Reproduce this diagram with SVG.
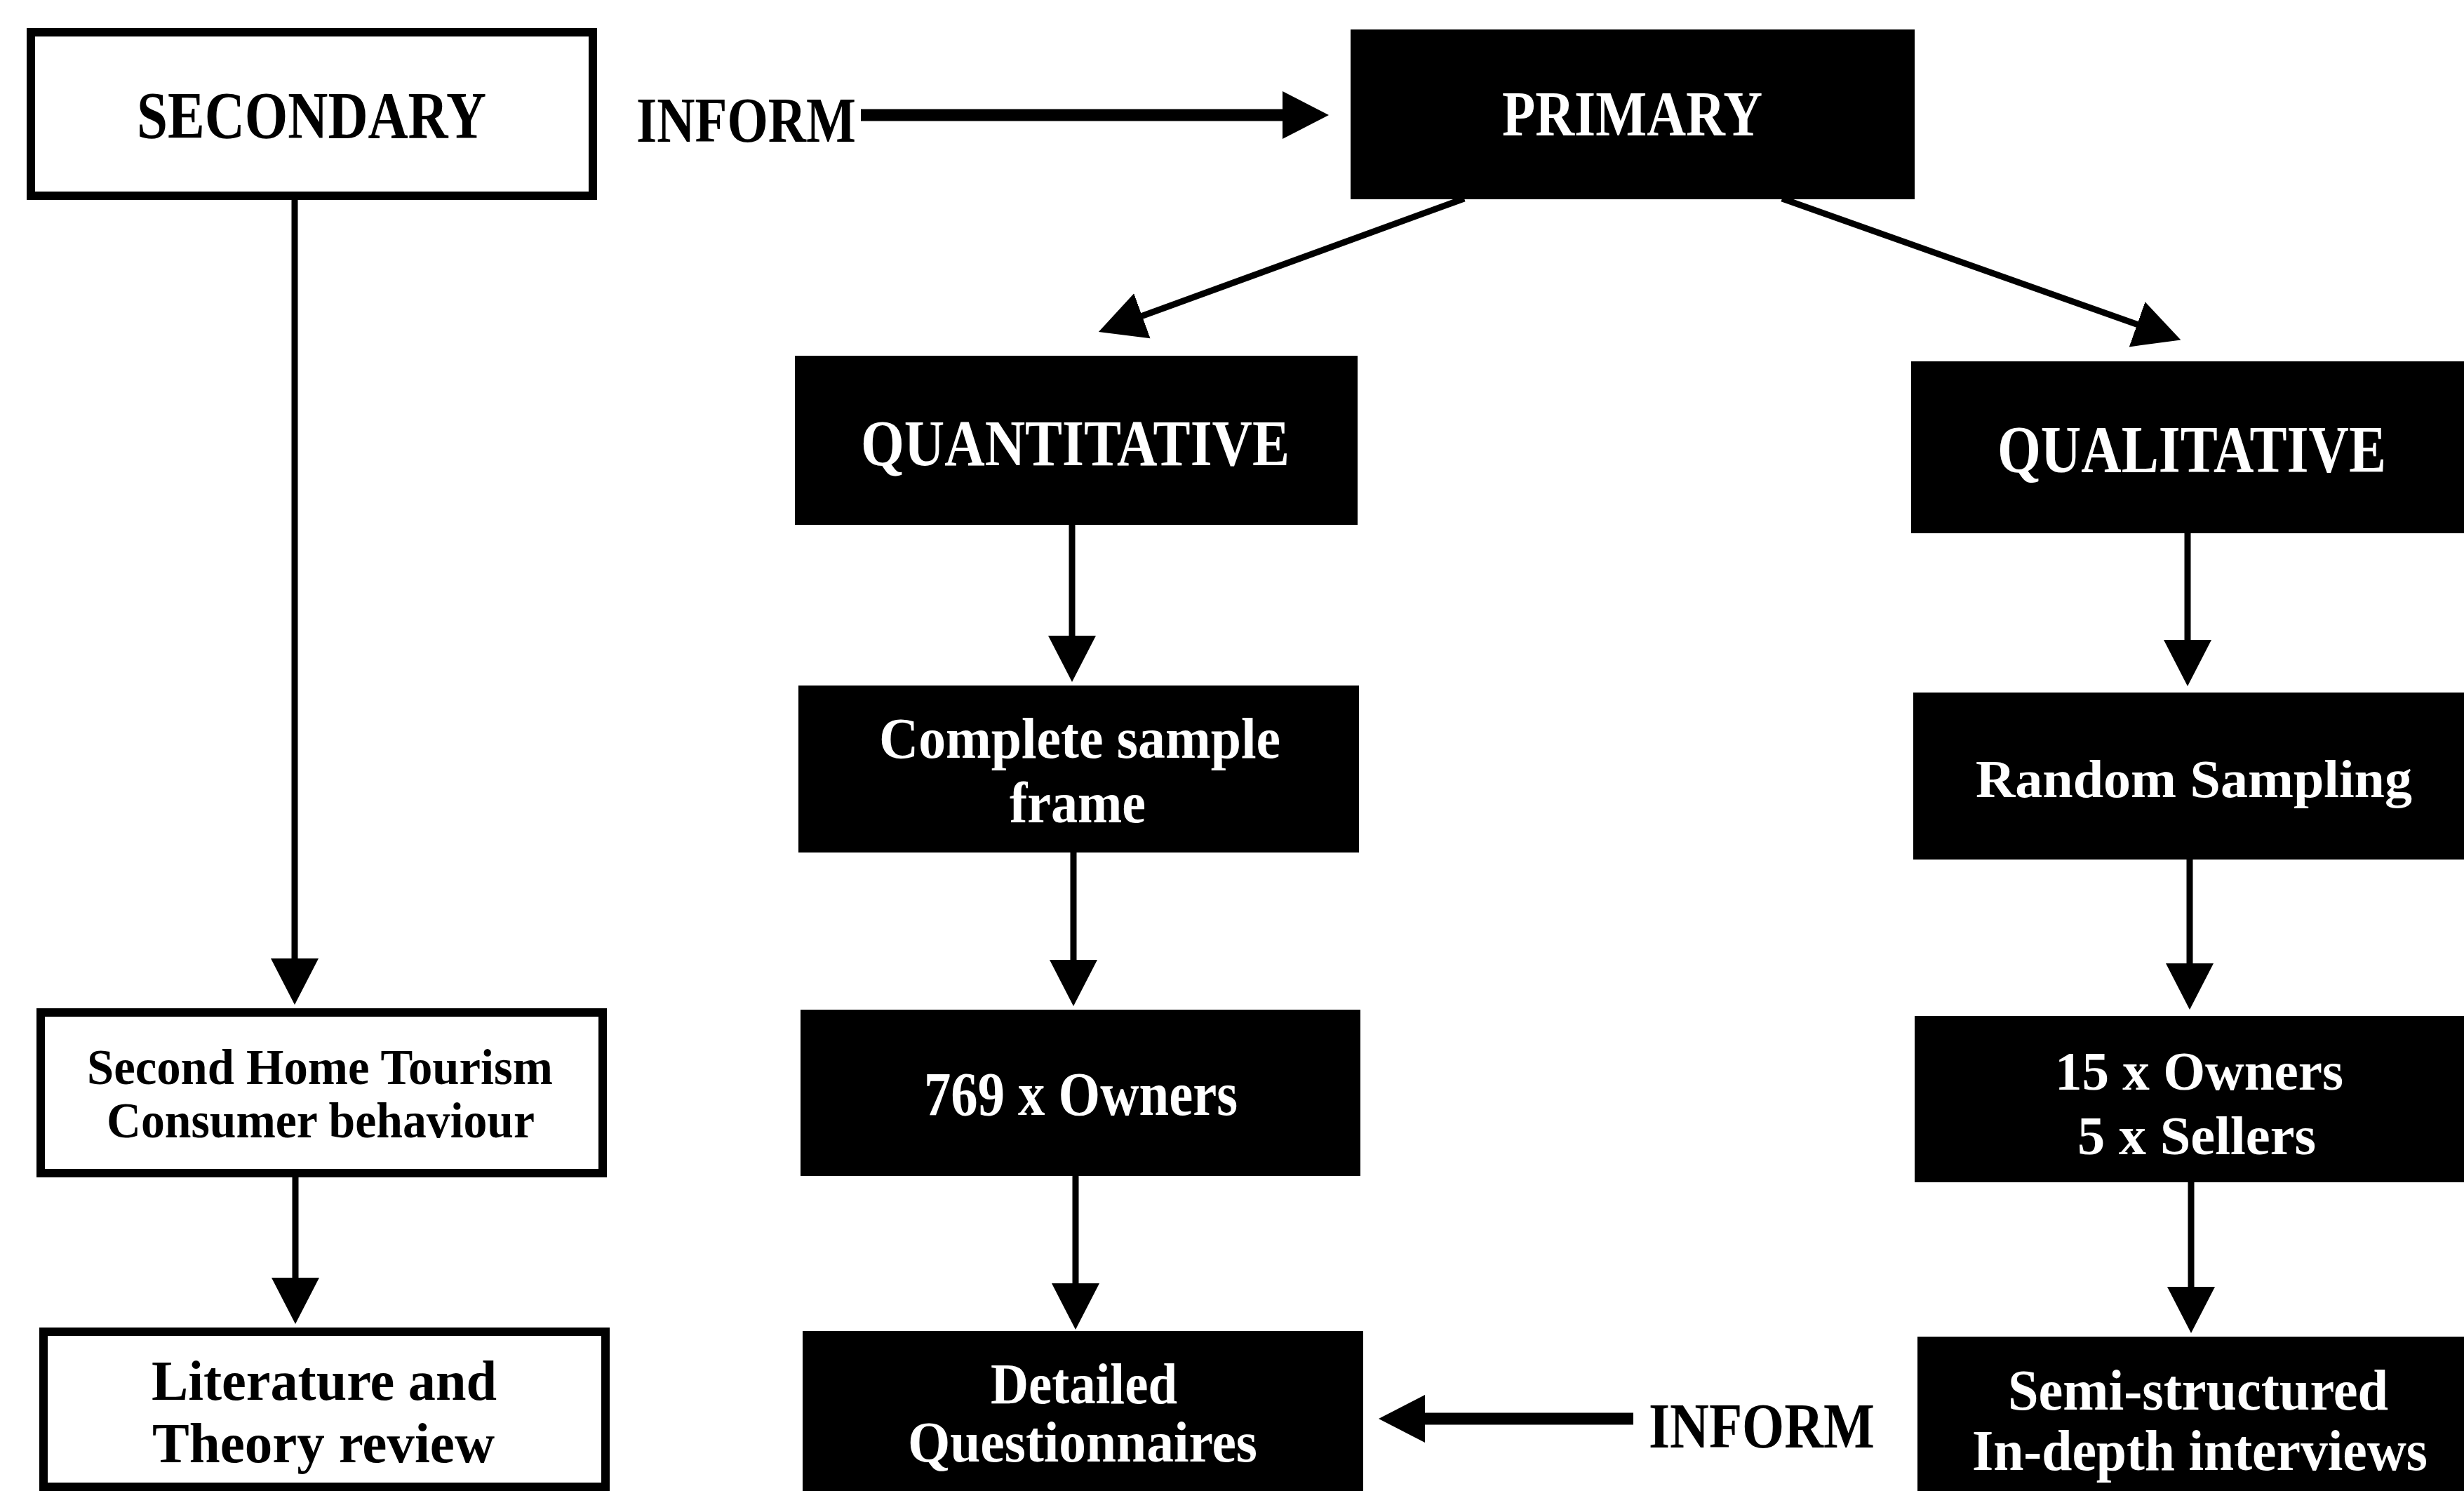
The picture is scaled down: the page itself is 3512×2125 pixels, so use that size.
<svg xmlns="http://www.w3.org/2000/svg" width="3512" height="2125" viewBox="0 0 3512 2125">
  <style>
    .txt { font-family: "Liberation Serif", "Times New Roman", serif; font-weight: bold; }
    .dark { fill: #000; }
    .light { fill: #fff; }
    .boxw { fill: #fff; stroke: #000; stroke-width: 12; }
    .boxb { fill: #000; }
    .link { stroke: #000; stroke-width: 9; fill: none; }
    .thick { stroke: #000; stroke-width: 17; fill: none; }
  </style>
  <defs>
    <marker id="head" markerUnits="userSpaceOnUse" markerWidth="70" markerHeight="72" refX="2" refY="35" orient="auto">
      <path d="M0,1 L66,35 L0,69 Z" fill="#000"/>
    </marker>
  </defs>
  <rect width="3512" height="2125" fill="#fff"/>

  <!-- connectors -->
  <g id="connectors">
    <line class="thick" x1="1227" y1="164" x2="1830" y2="164" marker-end="url(#head)"/>
    <line class="link" x1="2087" y1="283" x2="1626" y2="451" marker-end="url(#head)"/>
    <line class="link" x1="2540" y1="283" x2="3048" y2="463" marker-end="url(#head)"/>
    <line class="link" x1="420" y1="285" x2="420" y2="1368" marker-end="url(#head)"/>
    <line class="link" x1="421" y1="1678" x2="421" y2="1823" marker-end="url(#head)"/>
    <line class="link" x1="1528" y1="748" x2="1528" y2="908" marker-end="url(#head)"/>
    <line class="link" x1="1530" y1="1215" x2="1530" y2="1370" marker-end="url(#head)"/>
    <line class="link" x1="1533" y1="1676" x2="1533" y2="1831" marker-end="url(#head)"/>
    <line class="link" x1="3118" y1="760" x2="3118" y2="914" marker-end="url(#head)"/>
    <line class="link" x1="3121" y1="1225" x2="3121" y2="1375" marker-end="url(#head)"/>
    <line class="link" x1="3123" y1="1685" x2="3123" y2="1836" marker-end="url(#head)"/>
    <line class="thick" x1="2328" y1="2022" x2="2029" y2="2022" marker-end="url(#head)"/>
  </g>

  <!-- free labels -->
  <g id="label-inform-top">
    <text class="txt dark" x="907" y="202" font-size="91" textLength="313" lengthAdjust="spacingAndGlyphs">INFORM</text>
  </g>
  <g id="label-inform-bottom">
    <text class="txt dark" x="2350" y="2063" font-size="92" textLength="322" lengthAdjust="spacingAndGlyphs">INFORM</text>
  </g>

  <!-- secondary research column -->
  <g id="node-secondary">
    <rect class="boxw" x="44" y="46" width="801" height="233"/>
    <text class="txt dark" x="195" y="197" font-size="95" textLength="498" lengthAdjust="spacingAndGlyphs">SECONDARY</text>
  </g>
  <g id="node-second-home">
    <rect class="boxw" x="58" y="1443" width="801" height="229"/>
    <text class="txt dark" x="124" y="1545" font-size="72" textLength="664" lengthAdjust="spacingAndGlyphs">Second Home Tourism</text>
    <text class="txt dark" x="152" y="1621" font-size="72" textLength="610" lengthAdjust="spacingAndGlyphs">Consumer behaviour</text>
  </g>
  <g id="node-literature">
    <rect class="boxw" x="62" y="1898" width="801" height="221"/>
    <text class="txt dark" x="216" y="1995" font-size="80" textLength="492" lengthAdjust="spacingAndGlyphs">Literature and</text>
    <text class="txt dark" x="217" y="2084" font-size="80" textLength="488" lengthAdjust="spacingAndGlyphs">Theory review</text>
  </g>

  <!-- primary research -->
  <g id="node-primary">
    <rect class="boxb" x="1925" y="42" width="804" height="242"/>
    <text class="txt light" x="2141" y="193" font-size="92" textLength="371" lengthAdjust="spacingAndGlyphs">PRIMARY</text>
  </g>

  <!-- quantitative branch -->
  <g id="node-quantitative">
    <rect class="boxb" x="1133" y="507" width="802" height="241"/>
    <text class="txt light" x="1227" y="663" font-size="94" textLength="611" lengthAdjust="spacingAndGlyphs">QUANTITATIVE</text>
  </g>
  <g id="node-sample-frame">
    <rect class="boxb" x="1138" y="977" width="799" height="238"/>
    <text class="txt light" x="1253" y="1080" font-size="82" textLength="572" lengthAdjust="spacingAndGlyphs">Complete sample</text>
    <text class="txt light" x="1439" y="1172" font-size="82" textLength="194" lengthAdjust="spacingAndGlyphs">frame</text>
  </g>
  <g id="node-owners-769">
    <rect class="boxb" x="1141" y="1439" width="798" height="237"/>
    <text class="txt light" x="1317" y="1589" font-size="88" textLength="447" lengthAdjust="spacingAndGlyphs">769 x Owners</text>
  </g>
  <g id="node-questionnaires">
    <rect class="boxb" x="1144" y="1897" width="799" height="240"/>
    <text class="txt light" x="1412" y="2000" font-size="83" textLength="266" lengthAdjust="spacingAndGlyphs">Detailed</text>
    <text class="txt light" x="1294" y="2083" font-size="83" textLength="498" lengthAdjust="spacingAndGlyphs">Questionnaires</text>
  </g>

  <!-- qualitative branch -->
  <g id="node-qualitative">
    <rect class="boxb" x="2724" y="515" width="800" height="245"/>
    <text class="txt light" x="2847" y="673" font-size="95" textLength="554" lengthAdjust="spacingAndGlyphs">QUALITATIVE</text>
  </g>
  <g id="node-random-sampling">
    <rect class="boxb" x="2727" y="987" width="797" height="238"/>
    <text class="txt light" x="2816" y="1136" font-size="76" textLength="622" lengthAdjust="spacingAndGlyphs">Random Sampling</text>
  </g>
  <g id="node-owners-sellers">
    <rect class="boxb" x="2729" y="1448" width="795" height="237"/>
    <text class="txt light" x="2929" y="1553" font-size="78" textLength="411" lengthAdjust="spacingAndGlyphs">15 x Owners</text>
    <text class="txt light" x="2961" y="1645" font-size="78" textLength="340" lengthAdjust="spacingAndGlyphs">5 x Sellers</text>
  </g>
  <g id="node-interviews">
    <rect class="boxb" x="2733" y="1905" width="791" height="232"/>
    <text class="txt light" x="2862" y="2009" font-size="83" textLength="542" lengthAdjust="spacingAndGlyphs">Semi-structured</text>
    <text class="txt light" x="2811" y="2095" font-size="83" textLength="649" lengthAdjust="spacingAndGlyphs">In-depth interviews</text>
  </g>
</svg>
